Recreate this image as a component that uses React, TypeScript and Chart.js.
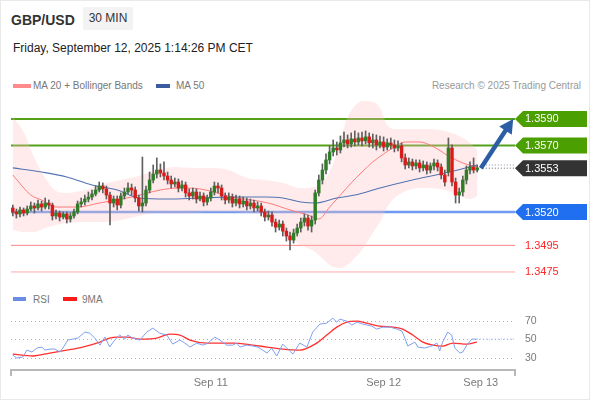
import React, { useEffect, useRef } from "react";
import { Chart, registerables } from "chart.js";

Chart.register(...registerables);

const FONT = '"Liberation Sans", Arial, Helvetica, sans-serif';

// ---------------- price data (30 min candles) ----------------
const opens = [
  1.35231, 1.35201, 1.35186, 1.35216, 1.35193, 1.35223, 1.35246, 1.35231, 1.35261, 1.35238,
  1.35268, 1.35253, 1.35171, 1.35193, 1.35163, 1.35186, 1.35148, 1.35171, 1.35201, 1.35261,
  1.35276, 1.35298, 1.35313, 1.35336, 1.35366, 1.35396, 1.35374, 1.35328, 1.35268, 1.35298,
  1.35253, 1.35321, 1.35351, 1.35381, 1.35366, 1.35306, 1.35246, 1.35268, 1.35366, 1.35441,
  1.35486, 1.35516, 1.35494, 1.35471, 1.35441, 1.35411, 1.35426, 1.35381, 1.35404, 1.35344,
  1.35321, 1.35351, 1.35298, 1.35321, 1.35276, 1.35306, 1.35351, 1.35396, 1.35381, 1.35321,
  1.35291, 1.35313, 1.35268, 1.35298, 1.35261, 1.35283, 1.35246, 1.35268, 1.35231, 1.35246,
  1.35201, 1.35163, 1.35178, 1.35125, 1.35087, 1.3511, 1.35057, 1.3502, 1.3499, 1.35042,
  1.3508, 1.35125, 1.35155, 1.35095, 1.3514, 1.35344, 1.35441, 1.35516, 1.35592, 1.35652,
  1.35682, 1.35667, 1.3572, 1.35742, 1.35712, 1.3575, 1.35727, 1.35757, 1.35735, 1.35765,
  1.3572, 1.35742, 1.35705, 1.35727, 1.35689, 1.3572, 1.35705, 1.35682, 1.35697, 1.35607,
  1.35554, 1.35577, 1.35547, 1.35569, 1.35532, 1.35554, 1.35516, 1.35547, 1.35569, 1.35539,
  1.35479, 1.35501, 1.35682, 1.35426, 1.35328, 1.35351, 1.35441, 1.35516, 1.35539, 1.35516,
];
const closes = [
  1.35201, 1.35186, 1.35216, 1.35193, 1.35223, 1.35246, 1.35231, 1.35261, 1.35238, 1.35268,
  1.35253, 1.35171, 1.35193, 1.35163, 1.35186, 1.35148, 1.35171, 1.35201, 1.35261, 1.35276,
  1.35298, 1.35313, 1.35336, 1.35366, 1.35396, 1.35374, 1.35328, 1.35268, 1.35298, 1.35253,
  1.35321, 1.35351, 1.35381, 1.35366, 1.35306, 1.35246, 1.35268, 1.35366, 1.35441, 1.35486,
  1.35516, 1.35494, 1.35471, 1.35441, 1.35411, 1.35426, 1.35381, 1.35404, 1.35344, 1.35321,
  1.35351, 1.35298, 1.35321, 1.35276, 1.35306, 1.35351, 1.35396, 1.35381, 1.35321, 1.35291,
  1.35313, 1.35268, 1.35298, 1.35261, 1.35283, 1.35246, 1.35268, 1.35231, 1.35246, 1.35201,
  1.35163, 1.35178, 1.35125, 1.35087, 1.3511, 1.35057, 1.3502, 1.3499, 1.35042, 1.3508,
  1.35125, 1.35155, 1.35095, 1.3514, 1.35344, 1.35441, 1.35516, 1.35592, 1.35652, 1.35682,
  1.35667, 1.3572, 1.35742, 1.35712, 1.3575, 1.35727, 1.35757, 1.35735, 1.35765, 1.3572,
  1.35742, 1.35705, 1.35727, 1.35689, 1.3572, 1.35705, 1.35682, 1.35697, 1.35607, 1.35554,
  1.35577, 1.35547, 1.35569, 1.35532, 1.35554, 1.35516, 1.35547, 1.35569, 1.35539, 1.35479,
  1.35426, 1.35682, 1.35426, 1.35328, 1.35351, 1.35441, 1.35516, 1.35539, 1.35516, 1.35532,
];
const highs = [
  1.35253, 1.35223, 1.35238, 1.35231, 1.35246, 1.35276, 1.35268, 1.35291, 1.35283, 1.35306,
  1.35291, 1.35268, 1.35216, 1.35208, 1.35201, 1.35201, 1.35193, 1.35223, 1.35283, 1.35306,
  1.35328, 1.35351, 1.35366, 1.35396, 1.35426, 1.35419, 1.35396, 1.35351, 1.35321, 1.35321,
  1.35344, 1.35381, 1.35419, 1.35411, 1.35389, 1.35328, 1.35614, 1.35396, 1.35501, 1.35554,
  1.35607, 1.35562, 1.35577, 1.35501, 1.35471, 1.35456, 1.35449, 1.35434, 1.35426, 1.35374,
  1.35381, 1.35374, 1.35351, 1.35344, 1.35328, 1.35381, 1.35426, 1.35419, 1.35404, 1.35344,
  1.35344, 1.35336, 1.35328, 1.35321, 1.35313, 1.35306, 1.35298, 1.35291, 1.35276, 1.35268,
  1.35223, 1.35208, 1.35201, 1.35148, 1.3514, 1.35133, 1.3508, 1.3505, 1.35072, 1.3511,
  1.35155, 1.35186, 1.35178, 1.35171, 1.35366, 1.35479, 1.35562, 1.35637, 1.35697, 1.35742,
  1.35727, 1.35772, 1.35802, 1.3578, 1.35795, 1.3581, 1.35795, 1.35802, 1.3581, 1.35795,
  1.35787, 1.3578, 1.35772, 1.35765, 1.3575, 1.35757, 1.35742, 1.35735, 1.3572, 1.35637,
  1.35607, 1.35599, 1.35592, 1.35592, 1.35584, 1.35577, 1.35569, 1.35599, 1.35592, 1.35562,
  1.35516, 1.35757, 1.35705, 1.35456, 1.35381, 1.35471, 1.35547, 1.35577, 1.35607, 1.35554,
];
const lows = [
  1.35171, 1.35155, 1.35163, 1.35171, 1.35178, 1.35208, 1.35193, 1.35216, 1.35208, 1.35223,
  1.35223, 1.3514, 1.35148, 1.35133, 1.35148, 1.35118, 1.35125, 1.35155, 1.35186, 1.35238,
  1.35253, 1.35276, 1.35291, 1.35321, 1.35351, 1.35344, 1.35298, 1.35103, 1.35238, 1.35216,
  1.35231, 1.35298, 1.35336, 1.35328, 1.35276, 1.35208, 1.35201, 1.35246, 1.35344, 1.35419,
  1.35456, 1.35464, 1.35441, 1.35411, 1.35381, 1.35389, 1.35351, 1.35359, 1.35313, 1.35291,
  1.35298, 1.35268, 1.35283, 1.35246, 1.35253, 1.35283, 1.35328, 1.35344, 1.35291, 1.35261,
  1.35268, 1.35238, 1.35246, 1.35231, 1.35238, 1.35216, 1.35223, 1.35201, 1.35208, 1.35171,
  1.35133, 1.3514, 1.35095, 1.3505, 1.35065, 1.3502, 1.34982, 1.34915, 1.34967, 1.3502,
  1.3505, 1.35095, 1.35065, 1.3505, 1.3511, 1.35321, 1.35411, 1.35486, 1.35562, 1.35622,
  1.35629, 1.35644, 1.35689, 1.35682, 1.35689, 1.35697, 1.35705, 1.35697, 1.35712, 1.35689,
  1.35682, 1.35667, 1.35682, 1.35659, 1.35667, 1.35674, 1.35652, 1.35659, 1.35577, 1.35524,
  1.35532, 1.35516, 1.35524, 1.35501, 1.35509, 1.35486, 1.35494, 1.35516, 1.35509, 1.35449,
  1.35396, 1.35471, 1.35396, 1.35268, 1.35268, 1.35321, 1.35411, 1.35486, 1.35494, 1.35501,
];

// Bollinger bands (MA 20 ± 2σ), sampled at candle indexes
const bandIdx = [0, 3, 6, 9, 12, 15, 20, 25, 30, 35, 40, 45, 50, 55, 60, 65, 70, 75, 80, 84, 87, 89, 91, 93, 95, 97, 100, 102, 104, 106, 110, 115, 120, 124, 127, 129];
const bandUpper = [
  1.35915, 1.35802, 1.35607, 1.35456, 1.35359, 1.35344, 1.35366, 1.35411, 1.35441, 1.35471,
  1.35516, 1.35539, 1.35532, 1.35532, 1.35516, 1.35456, 1.35441, 1.35419, 1.35381, 1.35389,
  1.35456, 1.35569, 1.35742, 1.35915, 1.35998, 1.36035, 1.36028, 1.35983, 1.35855, 1.35825,
  1.35825, 1.35825, 1.3581, 1.35772, 1.3572, 1.35667,
];
const bandLower = [
  1.35065, 1.3505, 1.3505, 1.3508, 1.35103, 1.35118, 1.35125, 1.35125, 1.3514, 1.35171,
  1.35193, 1.35186, 1.35193, 1.35201, 1.35201, 1.35193, 1.35178, 1.3505, 1.34952, 1.349,
  1.34825, 1.34787, 1.3478, 1.34802, 1.34855, 1.34915, 1.35042, 1.35125, 1.35238, 1.35306,
  1.35366, 1.35381, 1.35366, 1.35321, 1.35298, 1.35321,
];
const ma20Idx = [0, 5, 8, 12, 18, 24, 33, 41, 46, 52, 61, 71, 77, 82, 85, 88, 91, 94, 97, 100, 103, 106, 109, 113, 117, 121, 125, 129];
const ma20 = [
  1.35479, 1.35328, 1.35291, 1.35238, 1.35238, 1.35268, 1.35313, 1.35366, 1.35381, 1.35374,
  1.35313, 1.35268, 1.35216, 1.35178, 1.35148, 1.35238, 1.35328, 1.35419, 1.35501, 1.35577,
  1.35637, 1.35689, 1.35727, 1.35727, 1.35689, 1.35622, 1.35569, 1.35539,
];
const ma50Idx = [0, 8, 15, 22, 29, 35, 43, 52, 61, 70, 75, 80, 84, 90, 95, 102, 111, 120, 129];
const ma50 = [
  1.35532, 1.35501, 1.35464, 1.35404, 1.35366, 1.35306, 1.35298, 1.35306, 1.35313, 1.35313,
  1.35306, 1.35276, 1.35268, 1.35306, 1.35328, 1.35381, 1.35441, 1.35494, 1.35554,
];

// key levels
const resistanceLevels = [1.359, 1.357];
const pivotLevel = 1.352;
const supportLevels = [1.3495, 1.3475];
const lastPrice = 1.3553;
// forecast arrow (candle index, price)
const arrowFrom = [130, 1.3553];
const arrowTo = [139, 1.359];

// ---------------- RSI panel ----------------
const rsiIdx = [0, 1.1, 2.8, 3.9, 5.3, 6.7, 8.1, 8.9, 10.3, 11.7, 13.1, 13.9, 15.3, 18.1, 20, 21.4, 22.8, 24.2, 25.6, 26.9, 28.3, 29.7, 31.1, 31.9, 33.3, 35.3, 37.2, 38.9, 40.8, 42.8, 44.4, 46.4, 47.8, 49.2, 51.1, 52.8, 54.2, 56.1, 57.5, 59.4, 61.1, 62.2, 63.1, 65, 66.7, 68.1, 69.4, 70.6, 71.9, 73.3, 75, 76.9, 77.8, 79.7, 81.7, 83.3, 85.3, 87.2, 88.9, 90, 90.8, 92.8, 94.2, 95.6, 97.2, 99.7, 101.1, 102.8, 104.7, 106.7, 108.1, 108.9, 109.7, 111.7, 112.5, 114.4, 116.4, 117.8, 118.6, 119.4, 120.8, 121.9, 122.8, 124.2, 125, 126.1, 127.5, 128.9];
const rsiValues = [33.2, 30, 31.1, 38.6, 36.5, 40.8, 41.9, 38.6, 39.7, 39.7, 36.5, 40.8, 49.5, 51.6, 58.1, 57, 51.6, 44, 52.7, 41.9, 49.5, 54.9, 50.5, 54.9, 51.6, 49.5, 58.1, 62.4, 57, 54.9, 45.1, 49.5, 46.2, 41.9, 46.2, 44, 46.2, 52.7, 49.5, 44, 44, 46.2, 41.9, 44, 43, 41.9, 38.6, 35.4, 40.8, 32.2, 45.1, 37.6, 34.3, 46.2, 41.9, 58.1, 66.8, 67.8, 73.2, 68.9, 72.2, 70, 65.7, 68.9, 66.8, 64.6, 61.4, 63.5, 63.5, 61.4, 59.2, 51.6, 43, 47.3, 41.9, 40.8, 43, 46.2, 37.6, 47.3, 58.1, 54.9, 40.8, 35.4, 36.5, 44, 50.5, 50.5];
const rsiMaIdx = [0, 5.6, 10.3, 15, 19.4, 24.2, 26.9, 28.9, 31.7, 35.3, 40, 43.6, 46.4, 49.2, 53.9, 61.1, 66.7, 70.6, 75, 79.7, 84.4, 87.2, 90, 92.8, 95.6, 98.3, 101.9, 105.6, 108.3, 111.1, 113.9, 116.7, 119.4, 122.2, 126.1, 128.9];
const rsiMaValues = [34.3, 32.2, 35.4, 38.6, 41.9, 47.3, 51.6, 52.7, 52.7, 50.5, 51.6, 55.9, 54.9, 49.5, 46.2, 46.2, 44, 41.9, 39.7, 38.6, 46.2, 54.9, 63.5, 68.9, 70, 67.8, 64.6, 63.5, 61.4, 54.9, 47.3, 44, 43, 46.2, 45.1, 47.3];
const rsiTicks = [30, 50, 70];

const dateTickIdx = [55, 103, 130];
const dateTickLabels = ["Sep 11", "Sep 12", "Sep 13"];

const X_MIN = -0.5;
const X_MAX = 139.5;
const PRICE_MIN = 1.34652;
const PRICE_MAX = 1.3608;

const GREEN = "#2f7d27";
const RED = "#d81c1c";

const priceOverlay = {
  id: "priceOverlay",
  beforeDatasetsDraw(chart: any) {
    const { ctx, chartArea: a, scales } = chart;
    const y = scales.y;
    ctx.save();
    const hl = (v: number, color: string, w: number) => {
      const py = y.getPixelForValue(v);
      ctx.strokeStyle = color;
      ctx.lineWidth = w;
      ctx.beginPath();
      ctx.moveTo(a.left, py);
      ctx.lineTo(a.right, py);
      ctx.stroke();
    };
    resistanceLevels.forEach((v) => hl(v, "#55a21a", 2));
    hl(pivotLevel, "#6f9cf2", 2.5);
    hl(supportLevels[0], "#ff8585", 1);
    hl(supportLevels[1], "#ffaaaa", 1);
    ctx.restore();
  },
  afterDatasetsDraw(chart: any) {
    const { ctx, chartArea: a, scales } = chart;
    const x = scales.x;
    const y = scales.y;
    ctx.save();
    // dotted extensions of last price / MA50
    ctx.lineWidth = 1;
    ctx.setLineDash([1, 2]);
    const sx = x.getPixelForValue(arrowFrom[0]) + 2;
    ctx.strokeStyle = "#8a93a8";
    ctx.beginPath();
    ctx.moveTo(sx, y.getPixelForValue(ma50[ma50.length - 1]));
    ctx.lineTo(a.right, y.getPixelForValue(ma50[ma50.length - 1]));
    ctx.stroke();
    ctx.strokeStyle = "#666";
    ctx.beginPath();
    ctx.moveTo(sx, y.getPixelForValue(lastPrice));
    ctx.lineTo(a.right, y.getPixelForValue(lastPrice));
    ctx.stroke();
    ctx.setLineDash([]);

    // forecast arrow
    const x0 = x.getPixelForValue(arrowFrom[0]);
    const y0 = y.getPixelForValue(arrowFrom[1]);
    const x1 = x.getPixelForValue(arrowTo[0]);
    const y1 = y.getPixelForValue(arrowTo[1]);
    const ang = Math.atan2(y1 - y0, x1 - x0);
    const head = 14;
    const hw = 7.5;
    const bx = x1 - head * Math.cos(ang);
    const by = y1 - head * Math.sin(ang);
    ctx.strokeStyle = "#2c5ea6";
    ctx.fillStyle = "#2c5ea6";
    ctx.lineWidth = 4.5;
    ctx.beginPath();
    ctx.moveTo(x0, y0);
    ctx.lineTo(bx + Math.cos(ang), by + Math.sin(ang));
    ctx.stroke();
    ctx.beginPath();
    ctx.moveTo(x1, y1);
    ctx.lineTo(bx + hw * Math.sin(ang), by - hw * Math.cos(ang));
    ctx.lineTo(bx - hw * Math.sin(ang), by + hw * Math.cos(ang));
    ctx.closePath();
    ctx.fill();

    // price tags on the right
    ctx.font = `11px ${FONT}`;
    ctx.textBaseline = "middle";
    ctx.textAlign = "left";
    const tag = (v: number, bg: string) => {
      const py = y.getPixelForValue(v);
      const tx = a.right;
      const h = 8;
      ctx.fillStyle = bg;
      ctx.beginPath();
      ctx.moveTo(tx, py);
      ctx.lineTo(tx + 8, py - h);
      ctx.lineTo(tx + 72, py - h);
      ctx.lineTo(tx + 72, py + h);
      ctx.lineTo(tx + 8, py + h);
      ctx.closePath();
      ctx.fill();
      ctx.fillStyle = "#ffffff";
      ctx.fillText(v.toFixed(4), tx + 10, py + 0.5);
    };
    resistanceLevels.forEach((v) => tag(v, "#4c9f00"));
    tag(lastPrice, "#333333");
    tag(pivotLevel, "#1f6ff0");
    ctx.fillStyle = "#ff2626";
    supportLevels.forEach((v) => ctx.fillText(v.toFixed(4), a.right + 10, y.getPixelForValue(v) + 0.5));
    ctx.restore();
  },
};

const rsiOverlay = {
  id: "rsiOverlay",
  afterDraw(chart: any) {
    const { ctx, chartArea: a, scales } = chart;
    const x = scales.x;
    const y = scales.y;
    ctx.save();
    ctx.strokeStyle = "#b8b8b8";
    ctx.lineWidth = 2;
    ctx.beginPath();
    ctx.moveTo(a.left, a.bottom);
    ctx.lineTo(a.left, a.bottom + 6);
    ctx.moveTo(a.right, a.bottom);
    ctx.lineTo(a.right, a.bottom + 6);
    ctx.stroke();
    const lx = x.getPixelForValue(rsiIdx[rsiIdx.length - 1]);
    const ly = y.getPixelForValue(rsiValues[rsiValues.length - 1]);
    ctx.setLineDash([1, 2]);
    ctx.lineWidth = 1;
    ctx.strokeStyle = "#9fb5f0";
    ctx.beginPath();
    ctx.moveTo(lx, ly);
    ctx.lineTo(a.right, ly);
    ctx.stroke();
    ctx.restore();
  },
};

export default function App() {
  const priceRef = useRef<HTMLCanvasElement>(null);
  const rsiRef = useRef<HTMLCanvasElement>(null);

  useEffect(() => {
    const bodies = closes.map((c, i) => ({ x: i, y: [opens[i], c] }));
    const wicks = closes.map((_, i) => ({ x: i, y: [lows[i], highs[i]] }));
    const isUp = (i: number) => closes[i] >= opens[i];

    const pc = new Chart(priceRef.current as HTMLCanvasElement, {
      type: "bar",
      data: {
        datasets: [
          {
            type: "line",
            data: bandIdx.map((v, i) => ({ x: v, y: bandUpper[i] })),
            borderWidth: 0,
            borderColor: "rgba(0,0,0,0)",
            backgroundColor: "rgba(255,190,190,0.3)",
            pointRadius: 0,
            fill: "+1",
            cubicInterpolationMode: "monotone",
            order: 10,
          } as any,
          {
            type: "line",
            data: bandIdx.map((v, i) => ({ x: v, y: bandLower[i] })),
            borderWidth: 0,
            borderColor: "rgba(0,0,0,0)",
            pointRadius: 0,
            fill: false,
            cubicInterpolationMode: "monotone",
            order: 9,
          } as any,
          {
            type: "line",
            data: ma20Idx.map((v, i) => ({ x: v, y: ma20[i] })),
            borderWidth: 1,
            borderColor: "#ff7b7b",
            pointRadius: 0,
            fill: false,
            cubicInterpolationMode: "monotone",
            order: 5,
          } as any,
          {
            type: "line",
            data: ma50Idx.map((v, i) => ({ x: v, y: ma50[i] })),
            borderWidth: 1.1,
            borderColor: "#5274b3",
            pointRadius: 0,
            fill: false,
            cubicInterpolationMode: "monotone",
            order: 4,
          } as any,
          {
            type: "bar",
            data: wicks,
            backgroundColor: "#5f5f5f",
            barThickness: 1,
            grouped: false,
            borderWidth: 0,
            order: 2,
          } as any,
          {
            type: "bar",
            data: bodies,
            backgroundColor: (c: any) => (isUp(c.dataIndex) ? GREEN : RED),
            barThickness: 2.8,
            minBarLength: 1,
            grouped: false,
            borderWidth: 0,
            order: 1,
          } as any,
        ],
      },
      options: {
        responsive: false,
        animation: false,
        events: [],
        layout: { padding: { left: 11, right: 75, top: 0, bottom: 0 } },
        plugins: { legend: { display: false }, tooltip: { enabled: false } },
        scales: {
          x: { type: "linear", min: X_MIN, max: X_MAX, display: false, offset: false },
          y: { type: "linear", min: PRICE_MIN, max: PRICE_MAX, display: false },
        },
      } as any,
      plugins: [priceOverlay],
    });

    const rc = new Chart(rsiRef.current as HTMLCanvasElement, {
      type: "line",
      data: {
        datasets: [
          {
            data: rsiIdx.map((v, i) => ({ x: v, y: rsiValues[i] })),
            borderColor: "#7f9ff0",
            borderWidth: 1,
            pointRadius: 0,
            tension: 0,
          },
          {
            data: rsiMaIdx.map((v, i) => ({ x: v, y: rsiMaValues[i] })),
            borderColor: "#ff3030",
            borderWidth: 1.3,
            pointRadius: 0,
            cubicInterpolationMode: "monotone",
          } as any,
        ],
      },
      options: {
        responsive: false,
        animation: false,
        events: [],
        layout: { padding: { left: 11, right: 0, top: 6, bottom: 0 } },
        plugins: { legend: { display: false }, tooltip: { enabled: false } },
        scales: {
          x: {
            type: "linear",
            min: X_MIN,
            max: X_MAX,
            offset: false,
            grid: { display: false, drawTicks: false },
            border: { display: true, color: "#b8b8b8", width: 2 },
            ticks: {
              autoSkip: false,
              maxRotation: 0,
              padding: 6,
              color: "#7a7a7a",
              font: { family: FONT, size: 11 },
              callback: (v: any) => {
                const k = dateTickIdx.indexOf(Number(v));
                return k >= 0 ? dateTickLabels[k] : "";
              },
            },
            afterBuildTicks: (s: any) => {
              s.ticks = dateTickIdx.map((v) => ({ value: v }));
            },
            afterFit: (s: any) => {
              s.height = 25;
              s.paddingLeft = 0;
              s.paddingRight = 0;
            },
          },
          y: {
            type: "linear",
            position: "right",
            min: 17,
            max: 81,
            grid: { color: "#b5b5b5", drawTicks: false, lineWidth: 1 },
            border: { display: false, dash: [1, 3] },
            ticks: {
              padding: 10,
              color: "#7a7a7a",
              font: { family: FONT, size: 10.5 },
            },
            afterBuildTicks: (s: any) => {
              s.ticks = rsiTicks.map((v) => ({ value: v }));
            },
            afterFit: (s: any) => {
              s.width = 75;
              s.paddingTop = 0;
              s.paddingBottom = 0;
            },
          },
        },
      } as any,
      plugins: [rsiOverlay],
    });

    return () => {
      pc.destroy();
      rc.destroy();
    };
  }, []);

  const legendText: React.CSSProperties = {
    position: "absolute",
    fontSize: 10,
    lineHeight: "12px",
    color: "#777",
    whiteSpace: "nowrap",
  };
  const swatch = (left: number, top: number, color: string, w = 13): React.CSSProperties => ({
    position: "absolute",
    left,
    top,
    width: w,
    height: 4,
    background: color,
  });

  return (
    <div
      style={{
        position: "absolute",
        left: 0,
        top: 0,
        width: 590,
        height: 400,
        background: "#fff",
        boxShadow: "inset 0 0 0 1px #e9e9e9",
        fontFamily: FONT,
        overflow: "hidden",
      }}
    >
      <div style={{ position: "absolute", left: 11, top: 12, fontSize: 14, lineHeight: "16px", fontWeight: 700, color: "#333" }}>
        GBP/USD
      </div>
      <div
        style={{
          position: "absolute",
          left: 83,
          top: 7,
          width: 50,
          height: 23,
          lineHeight: "23px",
          textAlign: "center",
          background: "#f3f3f3",
          fontSize: 12,
          color: "#333",
        }}
      >
        30 MIN
      </div>
      <div style={{ position: "absolute", left: 13, top: 41, fontSize: 12, lineHeight: "14px", color: "#222", whiteSpace: "nowrap" }}>
        Friday, September 12, 2025 1:14:26 PM CET
      </div>

      <div style={swatch(13, 84, "#ff8a8a", 18)} />
      <div style={{ ...legendText, left: 33, top: 80 }}>MA 20 + Bollinger Bands</div>
      <div style={swatch(156, 84, "#3a5da0", 14)} />
      <div style={{ ...legendText, left: 176, top: 80 }}>MA 50</div>
      <div style={{ ...legendText, right: 9, top: 80, color: "#999" }}>Research © 2025 Trading Central</div>

      <canvas
        ref={priceRef}
        width={590}
        height={190}
        style={{ position: "absolute", left: 0, top: 95, width: 590, height: 190 }}
      />

      <div style={swatch(13, 297, "#6a8de6", 13)} />
      <div style={{ ...legendText, left: 33, top: 294 }}>RSI</div>
      <div style={swatch(63, 297, "#ff1a1a", 14)} />
      <div style={{ ...legendText, left: 82, top: 294 }}>9MA</div>

      <canvas
        ref={rsiRef}
        width={590}
        height={90}
        style={{ position: "absolute", left: 0, top: 305, width: 590, height: 90 }}
      />
    </div>
  );
}
